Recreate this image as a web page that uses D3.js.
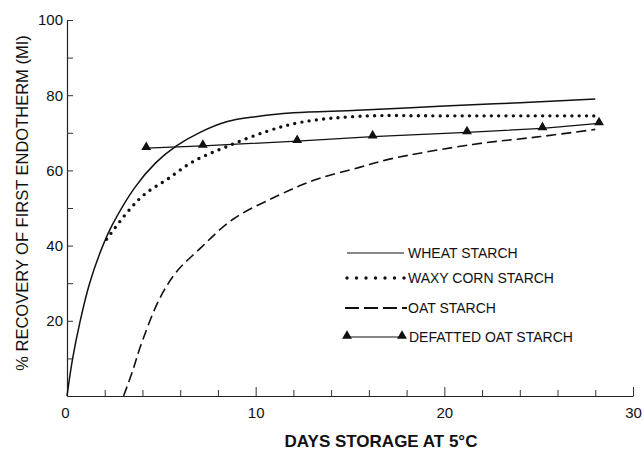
<!DOCTYPE html>
<html>
<head>
<meta charset="utf-8">
<script src="https://cdn.jsdelivr.net/npm/d3@7"></script>
<style>
  body { margin: 0; background: #fff; }
  svg text { font-family: "Liberation Sans", Arial, sans-serif; fill: #111; }
</style>
</head>
<body>
<svg id="chart" width="644" height="452"></svg>
<script>
// Series (days, % recovery)
const wheatDays   = [0, 0.3, 0.7, 1.2, 1.9, 2.4, 3.6, 4.7, 5.8, 7, 8.5, 10, 12, 15.4, 20, 24, 28];
const wheatVals   = [0, 10, 20, 30, 40, 45.5, 55.5, 62, 66.5, 70, 73, 74.3, 75.3, 76, 77.1, 78, 79];
const waxyDays    = [2.1, 3.2, 4.1, 5.3, 6.7, 8.5, 10.6, 12.4, 15.5, 20, 28];
const waxyVals    = [41.7, 48.9, 53.6, 57.6, 62.4, 66.4, 70.4, 72.8, 74.4, 74.5, 74.5];
const oatDays     = [3, 3.5, 3.9, 4.9, 5.8, 6.9, 8.8, 11.1, 13.2, 15.5, 17.1, 21.5, 25.1, 28];
const oatVals     = [0, 7, 13.3, 25.8, 33, 38.5, 47, 53.1, 57.6, 60.8, 63, 66.9, 69, 70.9];
const defatDays   = [4.2, 7.2, 12.2, 16.2, 21.2, 25.2, 28.2];
const defatVals   = [65.9, 66.5, 67.8, 69, 70.1, 71.2, 72.5];

const xTicks = d3.range(0, 31, 2);
const xLabels = [0, 10, 20, 30];
const yTicks = d3.range(10, 101, 10);
const yLabels = [20, 40, 60, 80, 100];
const legendLabels = ["WHEAT STARCH", "WAXY CORN STARCH", "OAT STARCH", "DEFATTED OAT STARCH"];

const svg = d3.select('#chart');
const x = d3.scaleLinear().domain([0, 30]).range([67, 633]);
const y = d3.scaleLinear().domain([0, 100]).range([396, 20]);

// Axes
const xAxis = svg.append('g')
    .attr('transform', `translate(0,${y(0)})`)
    .call(d3.axisBottom(x).tickValues(xTicks).tickSizeInner(-6).tickSizeOuter(0).tickPadding(11)
        .tickFormat(d => xLabels.includes(d) ? d : ''));
xAxis.selectAll('.tick line').filter(d => d % 10 === 0).attr('y2', -9);
xAxis.selectAll('.tick').filter(d => d === 0).select('line').remove();
xAxis.selectAll('text').attr('font-size', '15px').attr('font-family', 'Liberation Sans, Arial, sans-serif');
xAxis.select('.tick:first-of-type text').attr('dx', '-2');

const yAxis = svg.append('g')
    .attr('transform', `translate(${x(0)},0)`)
    .call(d3.axisLeft(y).tickValues(yTicks).tickSizeInner(-6).tickSizeOuter(0).tickPadding(4)
        .tickFormat(d => yLabels.includes(d) ? d : ''));
yAxis.selectAll('text').attr('font-size', '15px').attr('font-family', 'Liberation Sans, Arial, sans-serif');
svg.selectAll('.domain').attr('stroke', '#222').attr('stroke-width', 1.2);
svg.selectAll('.tick line').attr('stroke', '#333');

// Titles
svg.append('text')
    .attr('x', 381).attr('y', 447)
    .attr('text-anchor', 'middle')
    .attr('font-size', '17px').attr('font-weight', 'bold')
    .text('DAYS STORAGE AT 5°C');
svg.append('text')
    .attr('transform', 'translate(28,203) rotate(-90)')
    .attr('text-anchor', 'middle')
    .attr('font-size', '16.5px')
    .text('% RECOVERY OF FIRST ENDOTHERM (MI)');

// Curves
const line = d3.line().x(d => x(d[0])).y(d => y(d[1])).curve(d3.curveCatmullRom.alpha(0.5));
const zip = (a, b) => a.map((d, i) => [d, b[i]]);

svg.append('path').datum(zip(wheatDays, wheatVals))
    .attr('d', line).attr('fill', 'none').attr('stroke', '#111').attr('stroke-width', 1.5);
svg.append('path').datum(zip(waxyDays, waxyVals))
    .attr('d', line).attr('fill', 'none').attr('stroke', '#111').attr('stroke-width', 3.4)
    .attr('stroke-linecap', 'round').attr('stroke-dasharray', '0,7.3');
svg.append('path').datum(zip(oatDays, oatVals))
    .attr('d', line).attr('fill', 'none').attr('stroke', '#111').attr('stroke-width', 1.6)
    .attr('stroke-dasharray', '10,5');
svg.append('path').datum(zip(defatDays, defatVals))
    .attr('d', d3.line().x(d => x(d[0])).y(d => y(d[1])))
    .attr('fill', 'none').attr('stroke', '#111').attr('stroke-width', 1.3);

const tri = d3.symbol().type(d3.symbolTriangle).size(42);
svg.append('g').selectAll('path')
    .data(zip(defatDays, defatVals))
    .join('path')
    .attr('d', tri)
    .attr('transform', d => `translate(${x(d[0])},${y(d[1]) - 1})`)
    .attr('fill', '#111');

// Legend
const lgX1 = 347, lgX2 = 404, lgText = 408;
const lgY = [253, 278, 308, 337];
const lg = svg.append('g');
lg.append('line').attr('x1', lgX1).attr('x2', lgX2).attr('y1', lgY[0]).attr('y2', lgY[0])
    .attr('stroke', '#111').attr('stroke-width', 1.2);
lg.append('line').attr('x1', lgX1).attr('x2', lgX2 + 2).attr('y1', lgY[1]).attr('y2', lgY[1])
    .attr('stroke', '#111').attr('stroke-width', 3.4).attr('stroke-linecap', 'round')
    .attr('stroke-dasharray', '0,9.5');
lg.append('line').attr('x1', lgX1 - 2).attr('x2', lgX2 + 3).attr('y1', lgY[2]).attr('y2', lgY[2])
    .attr('stroke', '#111').attr('stroke-width', 1.8).attr('stroke-dasharray', '14,5');
lg.append('line').attr('x1', lgX1).attr('x2', lgX2 - 2).attr('y1', lgY[3]).attr('y2', lgY[3])
    .attr('stroke', '#111').attr('stroke-width', 1.2);
lg.selectAll('path.lt').data([lgX1, lgX2 - 2]).join('path')
    .attr('class', 'lt')
    .attr('d', tri)
    .attr('transform', d => `translate(${d},${lgY[3] - 1})`)
    .attr('fill', '#111');
lg.selectAll('text').data(legendLabels).join('text')
    .attr('x', (d, i) => i === 3 ? lgText + 1 : lgText)
    .attr('y', (d, i) => lgY[i])
    .attr('dy', '0.36em')
    .attr('font-size', '14px')
    .text(d => d);
</script>
</body>
</html>
